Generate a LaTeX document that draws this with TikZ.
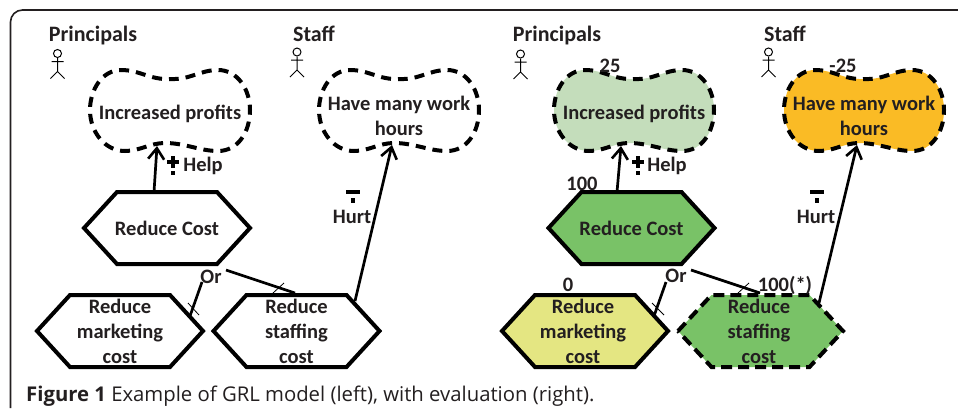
\documentclass[tikz,border=0pt]{standalone}
\usepackage{fontspec}
\setmainfont{Carlito}
\newfontfamily\capfont{Open Sans}
\usetikzlibrary{arrows.meta}
\definecolor{ink}{HTML}{231F20}
\definecolor{palegreen}{HTML}{C4DDBB}
\definecolor{amber}{HTML}{FABB25}
\definecolor{midgreen}{HTML}{79C267}
\definecolor{paleyellow}{HTML}{E4E682}
\tikzset{
  frameline/.style={draw=ink,line width=1.6pt,rounded corners=12pt},
  goalline/.style={draw=black,line width=4pt,dash pattern=on 10pt off 7pt,dash phase=9pt},
  softline/.style={draw=black,line width=4pt,line join=miter},
  softdash/.style={draw=black,line width=4pt,dash pattern=on 11pt off 6pt},
  lab/.style={font=\bfseries\fontsize{20.5}{25}\selectfont,text=ink,align=center,inner sep=0pt},
  actorlab/.style={font=\bfseries\fontsize{22}{25}\selectfont,text=ink,inner sep=0pt},
  link/.style={draw=black,line width=2.7pt},
  linkarrow/.style={link,-{Straight Barb[length=11pt,width=16pt,line width=2.6pt]}},
  tick/.style={draw=black,line width=0.8pt},
  actorline/.style={draw=black,line width=1pt},
  markbox/.style={fill=black,draw=none},
}
% name, centre x, fill, text, text y
\newcommand{\goalcloud}[5]{%
  \path[goalline,fill=#3,shift={(#2,0)}]
    (0,79) .. controls (-20,80) and (-30,70) .. (-49,70)
    .. controls (-68,70) and (-80,90) .. (-80,110)
    .. controls (-80,132) and (-65,151) .. (-45,151)
    .. controls (-30,151) and (-20,143) .. (-5,143)
    .. controls (15,143) and (30,151) .. (48,151)
    .. controls (68,151) and (80,132) .. (80,110)
    .. controls (80,90) and (68,70) .. (48,70)
    .. controls (30,70) and (20,80) .. (0,79) -- cycle;
  \node[lab] (#1) at (#2,#5) {#4};}
% name, cx, half width, half top width, cy, line style, fill, text
\newcommand{\softgoal}[8]{%
  \path[#6,fill=#7] (#2-#3,#5) -- (#2-#4,#5-36) -- (#2+#4,#5-36) -- (#2+#3,#5)
    -- (#2+#4,#5+36) -- (#2-#4,#5+36) -- cycle;
  \node[lab] (#1) at (#2,#5) {#8};}
\newcommand{\actor}[3]{%
  \begin{scope}[shift={(#2,#3)}]
    \node[circle,actorline,minimum size=8pt,inner sep=0pt] (#1) at (0,0) {};
    \draw[actorline] (#1.south) -- (0,18) (-6,8) -- (6,8) (-7,25) -- (0,18) -- (7,25);
  \end{scope}}
\newcommand{\helpmark}[2]{%
  \fill[markbox] (#1-6,#2-2) rectangle (#1+6,#2+2);
  \fill[markbox] (#1-2,#2-6) rectangle (#1+2,#2+6);
  \fill[markbox] (#1-2,#2+9) rectangle (#1+2,#2+13);}
\newcommand{\hurtmark}[2]{%
  \fill[markbox] (#1-7,#2-3) rectangle (#1+7,#2+1);
  \fill[markbox] (#1-2,#2+5) rectangle (#1+2,#2+10);}
\begin{document}
\begin{tikzpicture}[x=1pt,y=-1pt]
\useasboundingbox (0,0) rectangle (958,408);
\fill[white] (0,0) rectangle (958,408);
\draw[frameline] (10.5,408) |- (958,10);

% left model
\node[actorlab] (p1) at (93,36) {Principals};
\node[actorlab] (s1) at (314,34) {Staff};
\actor{pa1}{57.5}{53.5}
\actor{sa1}{297}{52}
\goalcloud{g1}{170}{white}{Increased profits}{114}
\goalcloud{g2}{399}{white}{Have many work\\hours}{115.5}
\softgoal{rc1}{167}{83}{50}{228}{softline}{white}{Reduce Cost}
\softgoal{rm1}{120}{83}{50}{331}{softline}{white}{Reduce\\marketing\\cost}
\softgoal{rs1}{296.5}{83}{50}{331}{softline}{white}{Reduce\\staffing\\cost}
\coordinate (rc1t) at (154,192);
\coordinate (g1i) at (157,146);
\coordinate (rs1t) at (355,301);
\coordinate (g2i) at (392,145);
\draw[linkarrow] (rc1t) -- (g1i);
\draw[linkarrow] (rs1t) -- (g2i);
\helpmark{172.5}{162}
\node[lab] (h1) at (203,166) {Help};
\hurtmark{353}{193}
\node[lab] (u1) at (352,217) {Hurt};
\node[lab] (or1) at (211,277) {Or};
\coordinate (or1a) at (202,282);
\coordinate (m1a) at (190,316);
\coordinate (or1b) at (226,270);
\coordinate (s1a) at (295,293);
\draw[link] (or1a) -- (m1a);
\draw[link] (or1b) -- (s1a);
\draw[tick] (188,303) -- (199,315);
\draw[tick] (273,293) -- (284,283);

% right model
\node[actorlab] (p2) at (557,36) {Principals};
\node[actorlab] (s2) at (785,34) {Staff};
\actor{pa2}{520.5}{54}
\actor{sa2}{768.5}{52}
\goalcloud{g3}{634}{palegreen}{Increased profits}{114}
\goalcloud{g4}{864}{amber}{Have many work\\hours}{115.5}
\softgoal{rc2}{631.5}{83}{50}{228}{softline}{midgreen}{Reduce Cost}
\softgoal{rm2}{585}{83}{50}{331}{softline}{paleyellow}{}
\node[lab] (rm2t) at (583,331) {Reduce\\marketing\\cost};
\softgoal{rs2}{760.5}{82.5}{49}{331}{softdash}{midgreen}{}
\node[lab] (rs2t) at (759,331) {Reduce\\staffing\\cost};
\coordinate (rc2t) at (617,192);
\coordinate (g3i) at (621,146);
\coordinate (rs2c) at (819,303);
\coordinate (g4i) at (857,145);
\draw[linkarrow] (rc2t) -- (g3i);
\draw[linkarrow] (rs2c) -- (g4i);
\helpmark{637.5}{162}
\node[lab] (h2) at (667,166) {Help};
\hurtmark{817}{193}
\node[lab] (u2) at (816,217) {Hurt};
\node[lab] (or2) at (676,276) {Or};
\coordinate (or2a) at (666,282);
\coordinate (m2a) at (654,316);
\coordinate (or2b) at (691,270);
\coordinate (s2a) at (760,293);
\draw[link] (or2a) -- (m2a);
\draw[link] (or2b) -- (s2a);
\draw[tick] (652,303) -- (664,315);
\draw[tick] (738,293) -- (749,283);
\node[lab] (v1) at (610,66) {25};
\node[lab] (v2) at (843,66) {-25};
\node[lab] (v3) at (582,184) {100};
\node[lab] (v4) at (568,285) {0};
\node[lab] (v5) at (785,285) {100(*)};

\node[anchor=west,inner sep=0pt,text=ink,font=\capfont\fontsize{20.3}{22}\selectfont] (cap) at (26,396)
  {\textbf{Figure 1} Example of GRL model (left), with evaluation (right).};
\end{tikzpicture}
\end{document}
